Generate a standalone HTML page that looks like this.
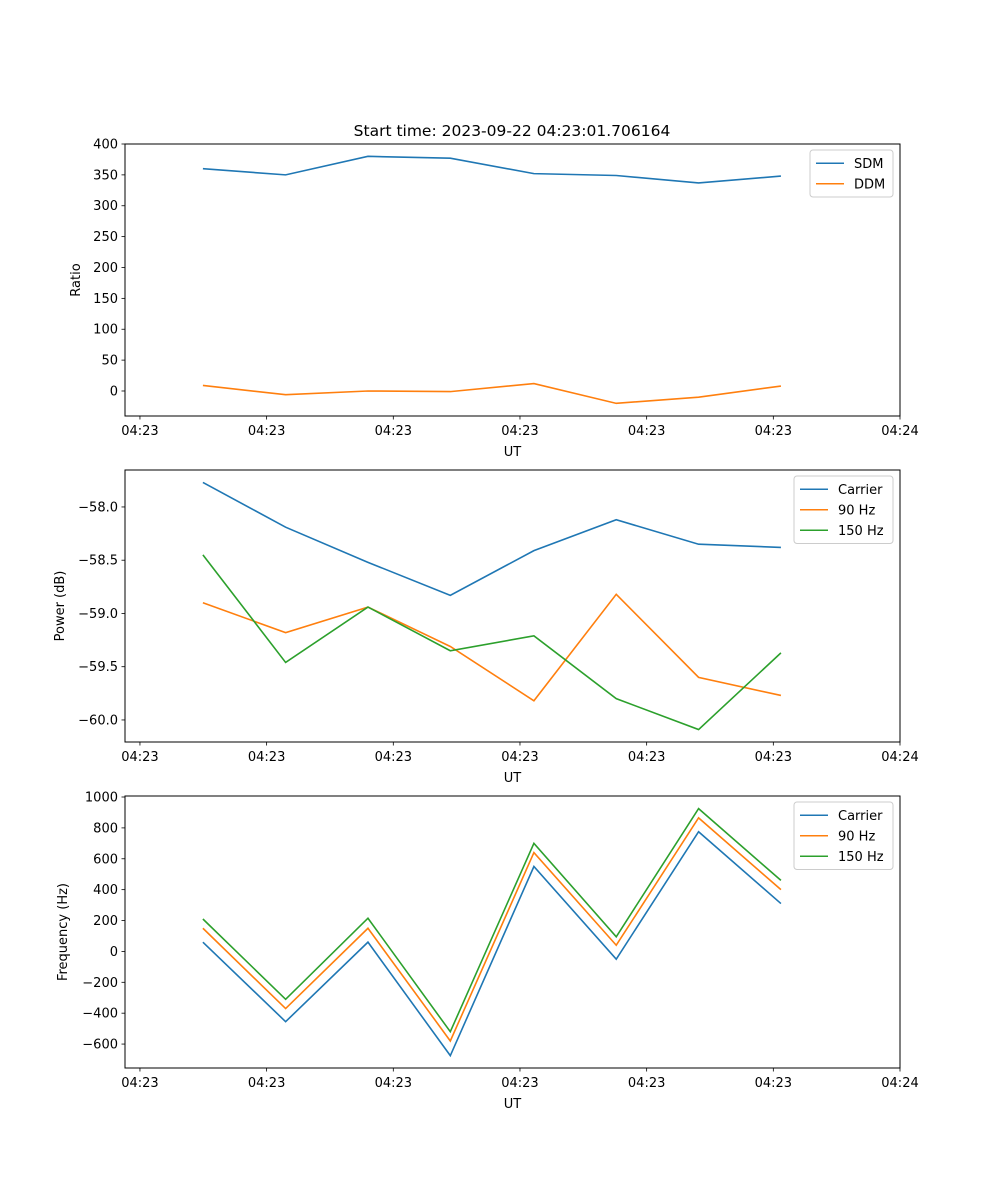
<!DOCTYPE html>
<html><head><meta charset="utf-8"><style>
body{margin:0;background:#fff}
svg{display:block;font-family:"DejaVu Sans","Liberation Sans",sans-serif}
</style></head><body>
<svg id="c" width="1000" height="1200"></svg>
<script>
const times = [4.97, 11.5, 18.0, 24.5, 31.1, 37.6, 44.1, 50.6];
const xTickValues = [0, 10, 20, 30, 40, 50, 60];
const xTickLabels = ["04:23","04:23","04:23","04:23","04:23","04:23","04:24"];
const sdm = [360, 350, 380, 377, 352, 349, 337, 348];
const ddm = [9, -6, 0, -1, 12, -20, -10, 8];
const powCarrier = [-57.77, -58.19, -58.52, -58.83, -58.41, -58.12, -58.35, -58.38];
const pow90 = [-58.90, -59.18, -58.94, -59.31, -59.82, -58.82, -59.60, -59.77];
const pow150 = [-58.45, -59.46, -58.94, -59.35, -59.21, -59.80, -60.09, -59.37];
const freqCarrier = [60, -455, 60, -675, 550, -50, 775, 310];
const freq90 = [150, -370, 150, -580, 640, 40, 865, 400];
const freq150 = [210, -310, 215, -520, 700, 95, 925, 460];
const ratioTicks = [0, 50, 100, 150, 200, 250, 300, 350, 400];
const powTicks = [-60.0, -59.5, -59.0, -58.5, -58.0];
const freqTicks = [-600, -400, -200, 0, 200, 400, 600, 800, 1000];

const NS = "http://www.w3.org/2000/svg";
const svg = document.getElementById('c');
function mk(tag, attrs, parent){const e=document.createElementNS(NS,tag);for(const k in attrs)e.setAttribute(k,attrs[k]);(parent||svg).appendChild(e);return e;}
const L=125,R=900;
const xmin=-1.18,xmax=60;
const xs=v=>L+(v-xmin)/(xmax-xmin)*(R-L);
const colors=["#1f77b4","#ff7f0e","#2ca02c"];

function panel(name,top,bottom,ymin,ymax,ticks,fmt,ylabel,ylabelX,series,names,legend){
  const g=mk('g',{});
  
  
  const ys=v=>bottom-(v-ymin)/(ymax-ymin)*(bottom-top);
  ticks.forEach(t=>{
    const y=ys(t);
    const tk=mk('line',{x1:L-3.5,x2:L,y1:y,y2:y,stroke:'#000','stroke-width':0.8},g);
    
    
    const tx=mk('text',{x:L-7,y:y+4.5,'text-anchor':'end','font-size':13},g);
    
    
    tx.textContent=fmt(t);
  });
  xTickValues.forEach((t,i)=>{
    const x=xs(t);
    const tk=mk('line',{x1:x,x2:x,y1:bottom,y2:bottom+3.5,stroke:'#000','stroke-width':0.8},g);
    
    
    const tx=mk('text',{x:x,y:bottom+19,'text-anchor':'middle','font-size':13},g);
    
    
    tx.textContent=xTickLabels[i];
  });
  const xl=mk('text',{x:(L+R)/2,y:bottom+40,'text-anchor':'middle','font-size':13},g);
  
  
  xl.textContent='UT';
  const cy=(top+bottom)/2;
  const yl=mk('text',{x:ylabelX,y:cy,'text-anchor':'middle','font-size':13,transform:`rotate(-90 ${ylabelX} ${cy})`},g);
  
  
  yl.textContent=ylabel;
  series.forEach((s,i)=>{
    const p=mk('polyline',{points:s.map((v,j)=>xs(times[j])+','+ys(v)).join(' '),fill:'none',stroke:colors[i],'stroke-width':1.6},g);
    
    
  });
  const fr=mk('rect',{x:L,y:top,width:R-L,height:bottom-top,fill:'none',stroke:'#000','stroke-width':1},g);
  
  
  const lg=mk('g',{},g);
  
  
  const lh=20.5;
  mk('rect',{x:legend.x,y:top+6,width:legend.w,height:names.length*lh+6,rx:3,fill:'#fff','fill-opacity':0.8,stroke:'#ccc','stroke-width':1},lg);
  names.forEach((n,i)=>{
    const y=top+6+3+lh*i+lh/2;
    const e=mk('g',{},lg);
    
    
    mk('line',{x1:legend.x+6,x2:legend.x+34,y1:y,y2:y,stroke:colors[i],'stroke-width':1.6},e);
    const t=mk('text',{x:legend.x+44,y:y+4.5,'font-size':13},e);
    t.textContent=n;
  });
}
const title=mk('text',{x:512,y:136,'text-anchor':'middle','font-size':15.5});


title.textContent='Start time: 2023-09-22 04:23:01.706164';

panel('ratio-panel',144,416,-40.5,400,ratioTicks,v=>String(v),'Ratio',80,[sdm,ddm],['SDM','DDM'],{x:810,w:83});
panel('power-panel',470,742,-60.207,-57.653,powTicks,v=>'\u2212'+Math.abs(v).toFixed(1),'Power (dB)',64,[powCarrier,pow90,pow150],['Carrier','90 Hz','150 Hz'],{x:794,w:99});
panel('frequency-panel',796,1068,-755,1006.5,freqTicks,v=>v<0?'\u2212'+Math.abs(v):String(v),'Frequency (Hz)',67,[freqCarrier,freq90,freq150],['Carrier','90 Hz','150 Hz'],{x:794,w:99});
</script>
</body></html>
